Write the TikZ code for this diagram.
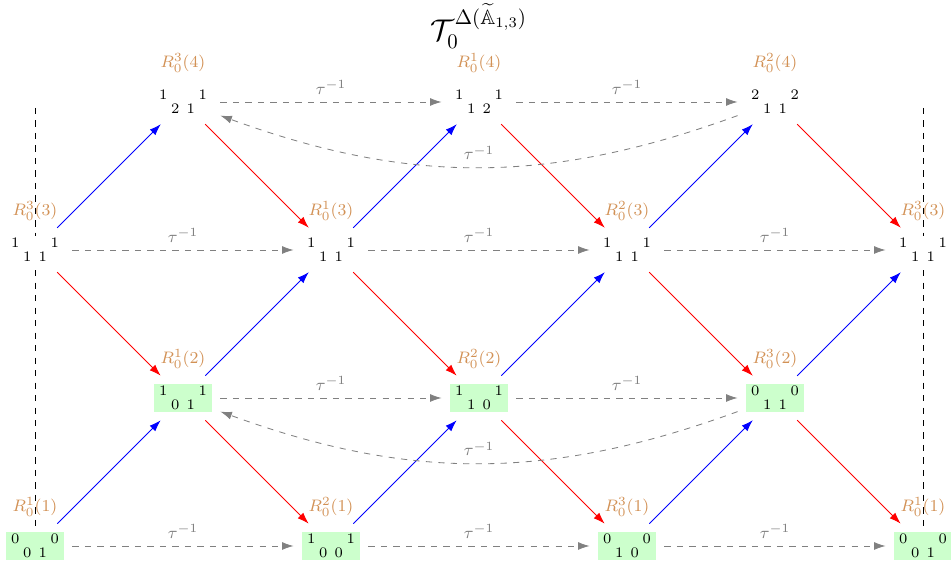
\documentclass[tikz,border=0pt]{standalone}
\usepackage{amssymb}
\usetikzlibrary{arrows.meta}

\definecolor{labbrown}{RGB}{210,145,85}
\newcommand{\dimv}[4]{\makebox[23pt]{#1\hfill#2}\\[-1.3pt]#3\hspace{3.5pt}#4}

\begin{document}
\begin{tikzpicture}[
    >={Latex[length=5.5pt,width=3.8pt]},
    dimbox/.style={rectangle, fill=white, align=center, font=\scriptsize,
                   inner xsep=2.5pt, inner ysep=1pt, outer sep=4pt,
                   label distance=0pt},
    proj/.style={dimbox, fill=green!20},
    lab/.style={text=labbrown, font=\footnotesize},
    up/.style={->, blue},
    down/.style={->, red},
    tau/.style={->, dashed, gray},
    taulab/.style={font=\footnotesize, text=gray}]

\useasboundingbox (-0.591,-0.287) rectangle (15.473,9.223);

% boundary of the fundamental domain
\draw[dashed] (0,7.40) -- (0,0.19);
\draw[dashed] (15,7.40) -- (15,0.19);

\node (title) at (7.5,8.78) {\Large $\mathcal{T}_0^{\Delta(\widetilde{\mathbb{A}}_{1,3})}$};

% row 1
\node[proj, label={[lab]above:$R_0^1(1)$}] (R11l) at (0,0) {\dimv{0}{0}{0}{1}};
\node[proj, label={[lab]above:$R_0^2(1)$}] (R21) at (5,0) {\dimv{1}{1}{0}{0}};
\node[proj, label={[lab]above:$R_0^3(1)$}] (R31) at (10,0) {\dimv{0}{0}{1}{0}};
\node[proj, label={[lab]above:$R_0^1(1)$}] (R11r) at (15,0) {\dimv{0}{0}{0}{1}};

% row 2
\node[proj, label={[lab]above:$R_0^1(2)$}] (R12) at (2.5,2.5) {\dimv{1}{1}{0}{1}};
\node[proj, label={[lab]above:$R_0^2(2)$}] (R22) at (7.5,2.5) {\dimv{1}{1}{1}{0}};
\node[proj, label={[lab]above:$R_0^3(2)$}] (R32) at (12.5,2.5) {\dimv{0}{0}{1}{1}};

% row 3
\node[dimbox, label={[lab]above:$R_0^3(3)$}] (R33l) at (0,5) {\dimv{1}{1}{1}{1}};
\node[dimbox, label={[lab]above:$R_0^1(3)$}] (R13) at (5,5) {\dimv{1}{1}{1}{1}};
\node[dimbox, label={[lab]above:$R_0^2(3)$}] (R23) at (10,5) {\dimv{1}{1}{1}{1}};
\node[dimbox, label={[lab]above:$R_0^3(3)$}] (R33r) at (15,5) {\dimv{1}{1}{1}{1}};

% row 4
\node[dimbox, label={[lab]above:$R_0^3(4)$}] (R34) at (2.5,7.5) {\dimv{1}{1}{2}{1}};
\node[dimbox, label={[lab]above:$R_0^1(4)$}] (R14) at (7.5,7.5) {\dimv{1}{1}{1}{2}};
\node[dimbox, label={[lab]above:$R_0^2(4)$}] (R24) at (12.5,7.5) {\dimv{2}{2}{1}{1}};

% irreducible maps
\draw[up] (R11l) -- (R12);
\draw[up] (R12) -- (R13);
\draw[up] (R33l) -- (R34);
\draw[up] (R13) -- (R14);
\draw[up] (R21) -- (R22);
\draw[up] (R22) -- (R23);
\draw[up] (R23) -- (R24);
\draw[up] (R31) -- (R32);
\draw[up] (R32) -- (R33r);

\draw[down] (R33l) -- (R12);
\draw[down] (R12) -- (R21);
\draw[down] (R34) -- (R13);
\draw[down] (R13) -- (R22);
\draw[down] (R22) -- (R31);
\draw[down] (R14) -- (R23);
\draw[down] (R23) -- (R32);
\draw[down] (R32) -- (R11r);
\draw[down] (R24) -- (R33r);

% AR translation
\draw[tau] (R11l) -- node[taulab, above] {$\tau^{-1}$} (R21);
\draw[tau] (R21) -- node[taulab, above] {$\tau^{-1}$} (R31);
\draw[tau] (R31) -- node[taulab, above] {$\tau^{-1}$} (R11r);
\draw[tau] (R12) -- node[taulab, above] {$\tau^{-1}$} (R22);
\draw[tau] (R22) -- node[taulab, above] {$\tau^{-1}$} (R32);
\draw[tau] (R33l) -- node[taulab, above] {$\tau^{-1}$} (R13);
\draw[tau] (R13) -- node[taulab, above] {$\tau^{-1}$} (R23);
\draw[tau] (R23) -- node[taulab, above] {$\tau^{-1}$} (R33r);
\draw[tau] (R34) -- node[taulab, above] {$\tau^{-1}$} (R14);
\draw[tau] (R14) -- node[taulab, above] {$\tau^{-1}$} (R24);
\draw[tau] (R24) to[bend left=20] node[taulab, above] {$\tau^{-1}$} (R34);
\draw[tau] (R32) to[bend left=20] node[taulab, above] {$\tau^{-1}$} (R12);
\end{tikzpicture}
\end{document}
